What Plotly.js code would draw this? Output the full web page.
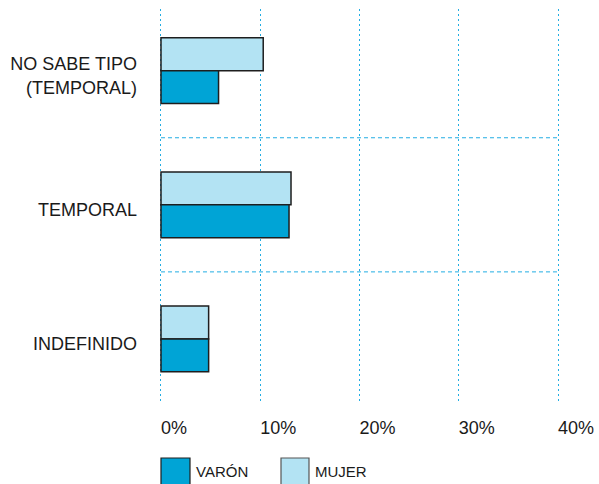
<!DOCTYPE html>
<html>
<head>
<meta charset="utf-8">
<script src="https://cdn.plot.ly/plotly-3.0.1.min.js"></script>
<style>html,body{margin:0;padding:0;background:#fff;}#chart{width:599px;height:484px;}</style>
</head>
<body>
<div id="chart"></div>
<script>
var categories = ["NO SABE TIPO<br>(TEMPORAL)", "TEMPORAL", "INDEFINIDO"];
var seriesNames = ["VARÓN", "MUJER"];
var varon = [5.8, 12.9, 4.8];
var mujer = [10.3, 13.1, 4.8];
var xTickVals = [0, 10, 20, 30, 40];
var xTickText = ["0%", "10%", "20%", "30%", "40%"];

var colVaron = "#00a4d6";
var colMujer = "#b3e3f3";
var gridCol = "#22ade3";
var outline = {color: "#1e1e1e", width: 1.5};

var traces = [
  {type: "bar", orientation: "h", name: seriesNames[1], y: categories, x: mujer,
   marker: {color: colMujer, line: outline}, hoverinfo: "x+y"},
  {type: "bar", orientation: "h", name: seriesNames[0], y: categories, x: varon,
   marker: {color: colVaron, line: outline}, hoverinfo: "x+y"}
];

// pixel helpers for legend placement (plot area: x 159..560, y 9..402)
function px(x){ return (x - 159) / 401; }
function py(y){ return (402 - y) / 393; }

// separators between category bands (category boundaries)
var separators = [];
for (var i = 0; i < categories.length - 1; i++) {
  separators.push({type: "line", xref: "x", yref: "y", layer: "below",
    x0: 0, x1: xTickVals[xTickVals.length - 1], y0: i + 0.5, y1: i + 0.5,
    line: {color: gridCol, width: 1, dash: "4px,3px"}});
}

var layout = {
  width: 599, height: 484,
  margin: {l: 159, r: 39, t: 9, b: 82, pad: 0},
  paper_bgcolor: "#ffffff", plot_bgcolor: "#ffffff",
  font: {family: "Liberation Sans, Arial, sans-serif", size: 18, color: "#1a1a1a"},
  barmode: "group",
  bargap: 0.51,
  bargroupgap: 0,
  showlegend: false,
  xaxis: {
    range: [-0.2, 40.2],
    tickvals: xTickVals, ticktext: xTickText,
    ticks: "", showline: false, zeroline: false,
    showgrid: true, gridcolor: gridCol, gridwidth: 1, griddash: "2px,3px",
    ticklabelposition: "outside right", ticklabelstandoff: 13,
    tickfont: {size: 18}
  },
  yaxis: {
    type: "category",
    range: [2.47, -0.46],
    ticks: "", showline: false, zeroline: false,
    showgrid: false,
    ticklabelstandoff: 21,
    ticklabelshift: -5,
    tickfont: {size: 18}
  },
  shapes: separators.concat([
    {type: "rect", xref: "paper", yref: "paper", x0: px(161), x1: px(190), y0: py(458), y1: py(490),
     fillcolor: colVaron, line: {color: "#1e1e1e", width: 1.2}},
    {type: "rect", xref: "paper", yref: "paper", x0: px(281), x1: px(309), y0: py(458), y1: py(490),
     fillcolor: colMujer, line: {color: "#555555", width: 1.2}}
  ]),
  annotations: [
    {xref: "paper", yref: "paper", x: px(194), y: py(471), xanchor: "left", yanchor: "middle",
     text: seriesNames[0], showarrow: false, font: {size: 15, color: "#1a1a1a"}},
    {xref: "paper", yref: "paper", x: px(313), y: py(471), xanchor: "left", yanchor: "middle",
     text: seriesNames[1], showarrow: false, font: {size: 15, color: "#1a1a1a"}}
  ]
};

Plotly.newPlot("chart", traces, layout, {displayModeBar: false, staticPlot: true});
</script>
</body>
</html>
